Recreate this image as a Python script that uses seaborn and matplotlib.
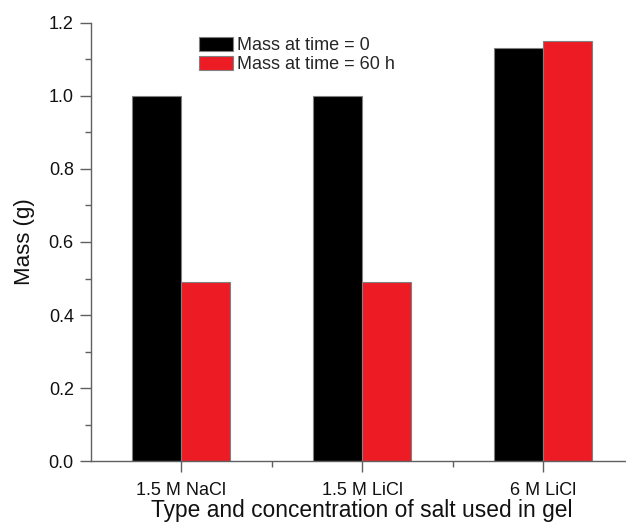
import matplotlib
matplotlib.use("Agg")
import matplotlib.pyplot as plt
from matplotlib.ticker import MultipleLocator, FixedLocator
import seaborn as sns
import pandas as pd

salts = ["1.5 M NaCl", "1.5 M LiCl", "6 M LiCl"]
mass_t0 = [1.00, 1.00, 1.13]
mass_t60 = [0.49, 0.49, 1.15]
series = ["Mass at time = 0", "Mass at time = 60 h"]
colors = ["#000000", "#ED1C24"]

df = pd.DataFrame({
    "salt": salts * 2,
    "mass": mass_t0 + mass_t60,
    "series": [series[0]] * len(salts) + [series[1]] * len(salts),
})

sns.set_theme(style="white")
plt.rcParams["font.family"] = ["Liberation Sans", "DejaVu Sans"]

fig = plt.figure(figsize=(6.26, 5.25), dpi=100)
ax = fig.add_axes([0.1446, 0.1213, 0.8674, 0.8355])

sns.barplot(data=df, x="salt", y="mass", hue="series", palette=colors,
            width=0.54, edgecolor="#808080", linewidth=0.8, saturation=1,
            ax=ax)

ax.set_xlim(-0.5, 2.5)
ax.set_ylim(0, 1.2)
ax.yaxis.set_major_locator(MultipleLocator(0.2))
ax.yaxis.set_minor_locator(MultipleLocator(0.1))
ax.xaxis.set_minor_locator(FixedLocator([0.5, 1.5]))

spine_col = "#606060"
for s in ["top", "right"]:
    ax.spines[s].set_visible(False)
for s in ["left", "bottom"]:
    ax.spines[s].set_color(spine_col)
    ax.spines[s].set_linewidth(1.0)

ax.tick_params(axis="both", which="major", direction="out", length=8,
               width=1.0, color=spine_col, labelsize=13, labelcolor="#111111",
               left=True, bottom=True, pad=4)
ax.tick_params(axis="both", which="minor", direction="out", length=4,
               width=1.0, color=spine_col, left=True, bottom=True)
ax.tick_params(axis="x", which="major", pad=7)

ax.set_ylabel("Mass (g)", fontsize=16, color="#111111", labelpad=10)
ax.set_xlabel("Type and concentration of salt used in gel", fontsize=16.4,
              color="#111111", labelpad=0)

ax.legend(loc="upper left", bbox_to_anchor=(0.2, 0.968), frameon=False,
          fontsize=13, handlelength=1.85, handleheight=0.85,
          handletextpad=0.25, labelspacing=0.1, borderpad=0,
          borderaxespad=0)

fig.savefig("out.png", dpi=100)
